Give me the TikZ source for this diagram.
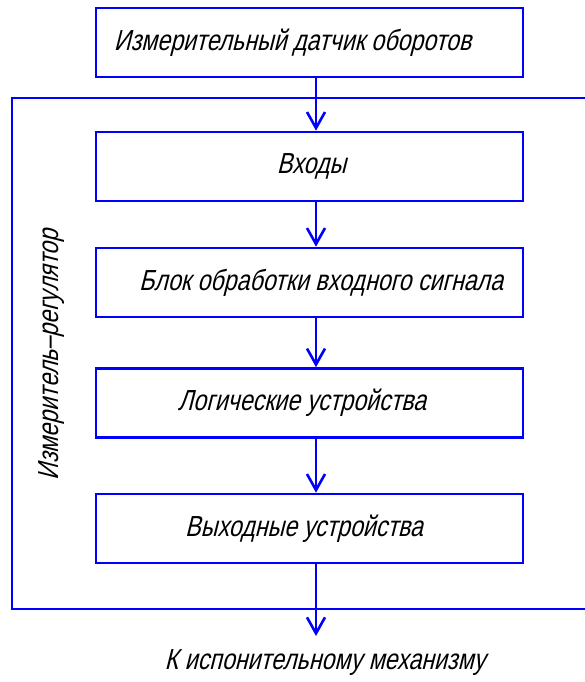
\documentclass[tikz,border=0pt]{standalone}
\usepackage{fontspec}
\setmainfont{Liberation Sans}[FakeSlant=0.25,FakeStretch=0.8]
\usetikzlibrary{arrows.meta}
\definecolor{lnblue}{RGB}{0,0,255}
\begin{document}
\begin{tikzpicture}[x=1pt,y=-1pt,
  blk/.style={draw=lnblue,line width=2.6pt,minimum width=427pt,minimum height=69pt,inner sep=0pt,font=\fontsize{29}{31}\selectfont},
  arr/.style={draw=lnblue,line width=2.6pt,-{Straight Barb[length=16pt,width=18pt,line width=2.6pt]}},
  frm/.style={draw=lnblue,line width=2pt},
  lbl/.style={font=\fontsize{29}{31}\selectfont,inner sep=0pt}]
\useasboundingbox (0,0) rectangle (585,682);
\node[blk] (top) at (309.5,42.5) {\hspace*{-34pt}Измерительный датчик оборотов};
\node[blk] (inp) at (309.5,166.5) {\hspace*{4pt}Входы};
\node[blk] (proc) at (309.5,282.5) {\hspace*{23pt}Блок обработки входного сигнала};
\node[blk] (logic) at (309.5,403) {\hspace*{-15pt}Логические устройства};
\node[blk] (out) at (309.5,528.5) {\hspace*{-11pt}Выходные устройства};
\coordinate (ax) at (316,0);
\coordinate (fl) at (12,98);
\coordinate (fr) at (585,98);
\coordinate (bl) at (12,609);
\coordinate (br) at (585,609);
\draw[frm] (fr) -- (fl) -- (bl) -- (br);
\coordinate (endpt) at (316,636);
\node[lbl] (dest) at (325,663) {К испонительному механизму};
\node[lbl,rotate=90] (side) at (52,355) {Измеритель–регулятор};
\draw[arr] (top.south -| ax) -- (inp.north -| ax);
\draw[arr] (inp.south -| ax) -- (proc.north -| ax);
\draw[arr] (proc.south -| ax) -- (logic.north -| ax);
\draw[arr] (logic.south -| ax) -- (out.north -| ax);
\draw[arr] (out.south -| ax) -- (endpt);
\end{tikzpicture}
\end{document}
